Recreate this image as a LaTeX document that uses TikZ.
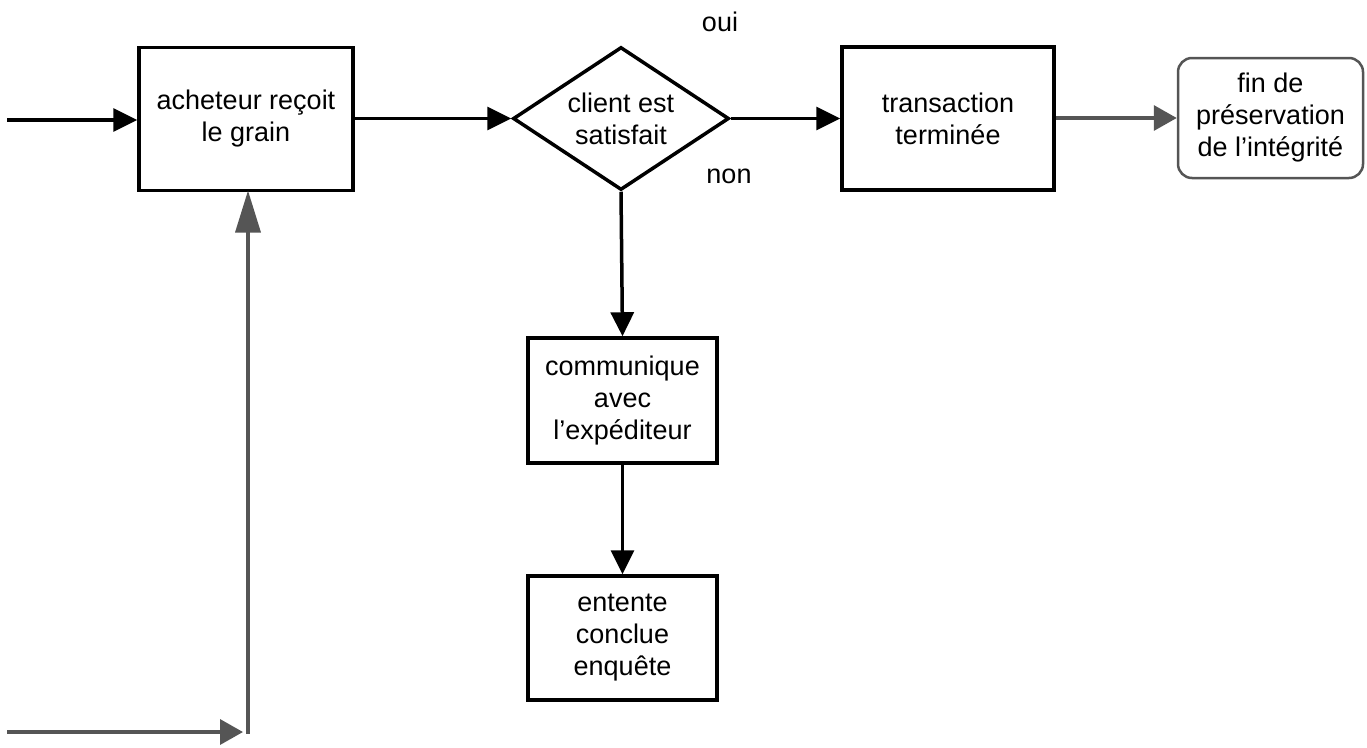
\documentclass[tikz,border=0pt]{standalone}
\usepackage{fontspec}
\setmainfont{Liberation Sans}
\usetikzlibrary{arrows.meta,shapes.geometric}
\definecolor{dgray}{RGB}{85,85,85}
\begin{document}
\begin{tikzpicture}[x=1pt,y=-1pt,
  every node/.style={font=\fontsize{27}{32}\selectfont, align=center, inner sep=0pt},
  procbox/.style={draw=black, line width=3.5pt},
  endbox/.style={draw=dgray, line width=2.5pt, rounded corners=14pt},
  decision/.style={draw=black, line width=3.5pt, diamond, shape aspect=1.51},
  blk/.style={draw=black, line width=3.5pt, -{Triangle[length=24pt,width=23pt]}},
  gry/.style={draw=dgray, line width=3.5pt, -{Triangle[length=23pt,width=25pt]}},
  gryup/.style={draw=dgray, line width=3.5pt, -{Triangle[length=42pt,width=25pt]}},
  lbl/.style={font=\fontsize{24}{28}\selectfont}
]
\useasboundingbox (0,0) rectangle (1367,747);

\node[procbox, minimum width=214pt, minimum height=143pt] (recoit) at (246,119) {acheteur reçoit\\le grain};
\node[decision, minimum width=216pt, minimum height=143pt] (client) at (621,118.5) {client est\\satisfait};
\node[procbox, minimum width=212pt, minimum height=143pt] (trans) at (948,118.5) {transaction\\terminée};
\node[endbox, minimum width=185pt, minimum height=120pt] (fin) at (1270.5,118) {fin de\\préservation\\de l’intégrité};
\node[procbox, minimum width=189pt, minimum height=125pt] (comm) at (622.5,400.5) {communique\\avec\\l’expéditeur};
\node[procbox, minimum width=189pt, minimum height=124pt] (entente) at (622.5,638) {entente\\conclue\\enquête};

\node (oui) at (720,22) {oui};
\node (non) at (729,176) {non};

\coordinate (in1) at (7,120);
\coordinate (in2) at (7,732);
\coordinate (joinL) at (243,732);
\coordinate (join) at (248,733.5);
\coordinate (hit) at (248,190.5);

\draw[blk] (in1) -- (recoit.west |- in1);
\draw[blk] (recoit.east |- client.west) -- (client.west);
\draw[blk] (client.east) -- (trans.west |- client.east);
\draw[gry] (trans.east |- fin.west) -- (fin.west);
\draw[blk] (client.south) -- (comm.north);
\draw[blk] (comm.south) -- (entente.north);
\draw[gry] (in2) -- (joinL);
\draw[gryup] (join) -- (hit);
\end{tikzpicture}
\end{document}
